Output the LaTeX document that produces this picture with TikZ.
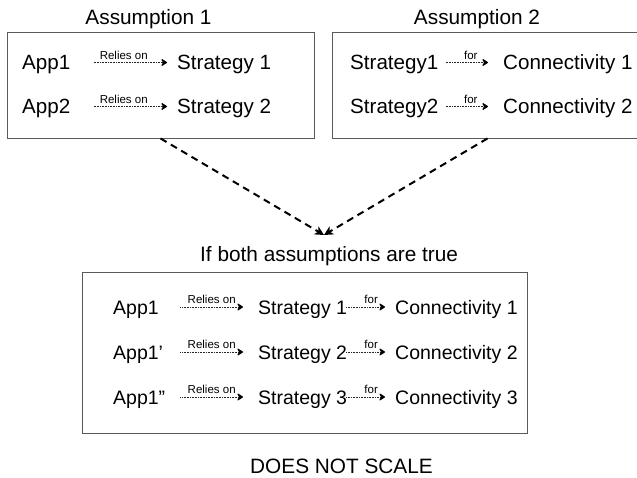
\documentclass[tikz,border=0pt]{standalone}
\usepackage{fontspec}
\setmainfont{Liberation Sans}
\usetikzlibrary{arrows.meta,shadows}
\begin{document}
\begin{tikzpicture}[x=1pt,y=-1pt,
  frame/.style={draw=black!65, line width=0.9pt, fill=white, inner sep=0pt,
    drop shadow={shadow xshift=0.8pt, shadow yshift=-1pt, fill=black!35, opacity=0.6}},
  bigtxt/.style={font=\fontsize{20.6}{24}\selectfont, inner sep=0pt, text height=15pt, text depth=0pt, anchor=base west},
  midtxt/.style={font=\fontsize{19.5}{23}\selectfont, inner sep=0pt, text height=14pt, text depth=0pt, anchor=base west},
  ttl/.style={font=\fontsize{20.8}{24}\selectfont, inner sep=0pt, anchor=base},
  ttlw/.style={font=\fontsize{20.8}{24}\selectfont, inner sep=0pt, anchor=base west},
  lab/.style={font=\fontsize{11.5}{13}\selectfont, inner sep=0pt, above=3pt},
  rel/.style={draw=black!85, line width=0.7pt, dash pattern=on 1pt off 0.6pt,
    -{Stealth[length=7pt,width=9pt,inset=2.5pt,color=black,line width=1.2pt,round]}},
  bigarrow/.style={draw=black, line width=2pt, dash pattern=on 7pt off 5pt,
    -{Stealth[length=9pt,width=9pt,inset=2.5pt]}}
]
\useasboundingbox (0,0) rectangle (637,478);
\clip (0,0) rectangle (637,478);
\fill[white] (0,0) rectangle (637,478);

% titles
\node[ttl] (t1) at (148.5,25) {Assumption 1};
\node[ttl] (t2) at (477,25) {Assumption 2};

% boxes
\node[frame, minimum width=307pt, minimum height=106pt] (b1) at (160.5,85) {};
\node[frame, minimum width=310pt, minimum height=106pt] (b2) at (487.5,85) {};

% box 1 content
\node[bigtxt] (a1) at (22,70) {App1};
\node[bigtxt] (a2) at (22,114) {App2};
\node[bigtxt] (s1) at (177,70) {Strategy 1};
\node[bigtxt] (s2) at (177,114) {Strategy 2};
\draw[rel, shorten <=23pt, shorten >=10pt] (a1.east) -- node[lab] {Relies on} (s1.west);
\draw[rel, shorten <=23pt, shorten >=10pt] (a2.east) -- node[lab] {Relies on} (s2.west);

% box 2 content
\node[bigtxt] (p1) at (350,70) {Strategy1};
\node[bigtxt] (p2) at (350,114) {Strategy2};
\node[bigtxt] (c1) at (503,70) {Connectivity 1};
\node[bigtxt] (c2) at (503,114) {Connectivity 2};
\draw[rel, shorten <=7pt, shorten >=15pt] (p1.east) -- node[lab] {for} (c1.west);
\draw[rel, shorten <=7pt, shorten >=15pt] (p2.east) -- node[lab] {for} (c2.west);

% merge arrows
\coordinate (join) at (324,235);
\draw[bigarrow] (b1.south) -- (join);
\draw[bigarrow] (b2.south) -- (join);

\node[ttlw] (ifb) at (200,262) {If both assumptions are true};

% bottom box
\node[frame, minimum width=445pt, minimum height=161pt] (b3) at (304.5,352.5) {};

\node[midtxt, text width=52pt, align=left] (x1) at (113,314) {App1};
\node[midtxt, text width=52pt, align=left] (x2) at (113,359) {App1’};
\node[midtxt, text width=52pt, align=left] (x3) at (113,404) {App1”};
\node[midtxt] (y1) at (258,314) {Strategy 1};
\node[midtxt] (y2) at (258,359) {Strategy 2};
\node[midtxt] (y3) at (258,404) {Strategy 3};
\node[midtxt] (z1) at (395,314) {Connectivity 1};
\node[midtxt] (z2) at (395,359) {Connectivity 2};
\node[midtxt] (z3) at (395,404) {Connectivity 3};
\foreach \i in {1,2,3}{
  \draw[rel, shorten <=15pt, shorten >=15pt] (x\i.east) -- node[lab] {Relies on} (y\i.west);
  \draw[rel, shorten <=-1pt, shorten >=10pt] (y\i.east) -- node[lab] {for} (z\i.west);
}

\node[ttlw] (dns) at (250,473) {DOES NOT SCALE};
\end{tikzpicture}
\end{document}
